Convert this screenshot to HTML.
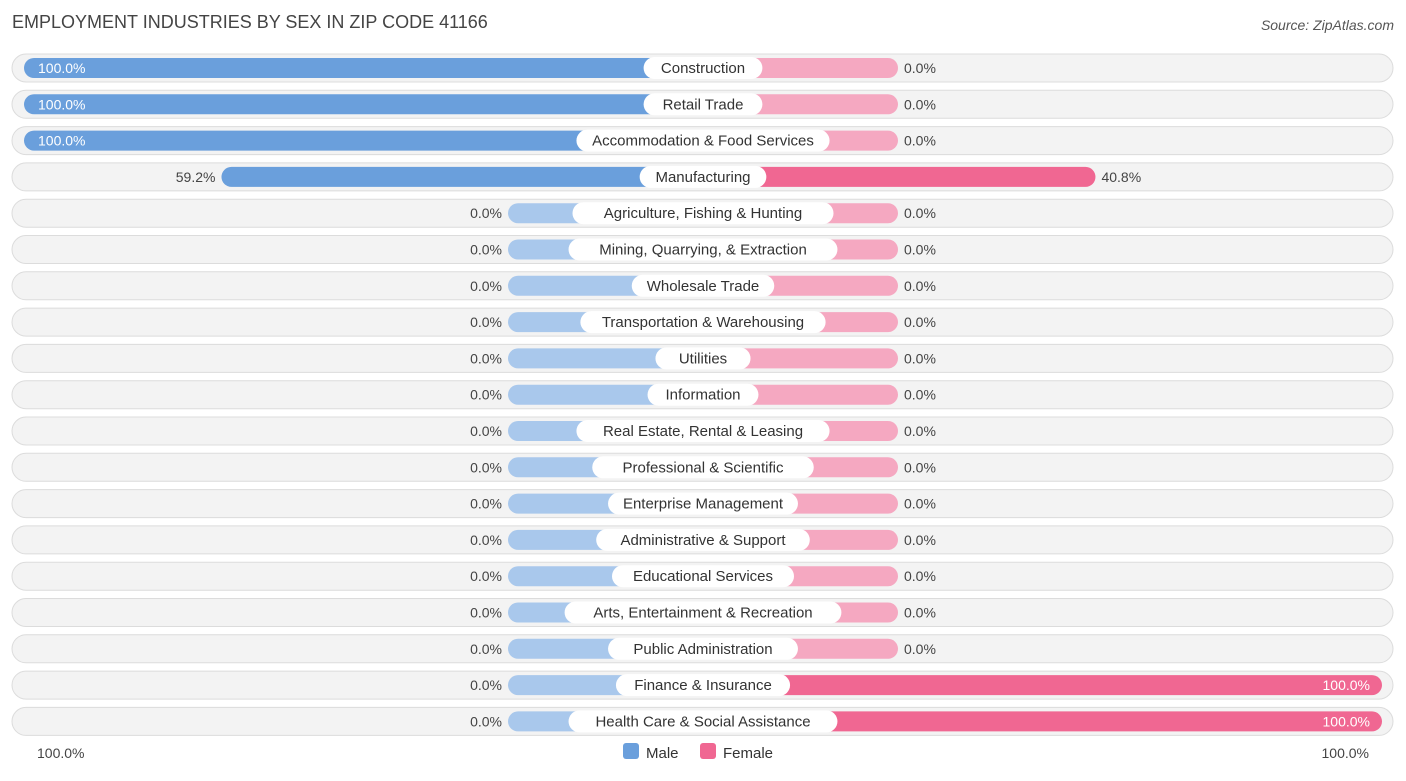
<!DOCTYPE html>
<html><head><meta charset="utf-8"><style>
body{margin:0;background:#fff;font-family:"Liberation Sans",sans-serif;}
svg text{font-family:"Liberation Sans",sans-serif;}
</style></head><body>
<svg id="c" width="1406" height="776" xmlns="http://www.w3.org/2000/svg">
<text x="12" y="28" font-size="18" fill="#444">EMPLOYMENT INDUSTRIES BY SEX IN ZIP CODE 41166</text>
<text x="1394" y="30" font-size="14" fill="#555" font-style="italic" text-anchor="end">Source: ZipAtlas.com</text>
<g id="rows"></g>
<text x="37" y="758" font-size="14" fill="#444">100.0%</text>
<text x="1369" y="758" font-size="14" fill="#444" text-anchor="end">100.0%</text>
<rect x="623" y="743" width="16" height="16" rx="3" fill="#6a9fdc"/>
<text x="646" y="758" font-size="15" fill="#333">Male</text>
<rect x="700" y="743" width="16" height="16" rx="3" fill="#f06792"/>
<text x="723" y="758" font-size="15" fill="#333">Female</text>
</svg>
<script>
const categories=["Construction","Retail Trade","Accommodation & Food Services","Manufacturing","Agriculture, Fishing & Hunting","Mining, Quarrying, & Extraction","Wholesale Trade","Transportation & Warehousing","Utilities","Information","Real Estate, Rental & Leasing","Professional & Scientific","Enterprise Management","Administrative & Support","Educational Services","Arts, Entertainment & Recreation","Public Administration","Finance & Insurance","Health Care & Social Assistance"];
const maleValues=[100,100,100,59.2,0,0,0,0,0,0,0,0,0,0,0,0,0,0,0];
const femaleValues=[0,0,0,40.8,0,0,0,0,0,0,0,0,0,0,0,0,0,100,100];
const NS="http://www.w3.org/2000/svg";
const cx=703,stub=195,full=679;
function len(v){return stub+(full-stub)*v/100;}
function rowY(i){return 68+i*36.3;}
const g=document.getElementById('rows');
function mk(t,a){const e=document.createElementNS(NS,t);for(const k in a)e.setAttribute(k,a[k]);return e;}
categories.forEach((cat,i)=>{
  const y=rowY(i);
  const bg=mk('rect',{x:12,y:y-14,width:1381,height:28,rx:14,fill:'#f3f3f3',stroke:'#dcdcdc'});
  
  
  g.appendChild(bg);
  const m=maleValues[i],f=femaleValues[i];
  const ml=len(m),fl=len(f);
  const mb=mk('rect',{x:cx-ml,y:y-10,width:ml,height:20,rx:10,fill:m>0?'#6a9fdc':'#a9c8ec'});
  
  
  g.appendChild(mb);
  const fb=mk('rect',{x:cx,y:y-10,width:fl,height:20,rx:10,fill:f>0?'#f06792':'#f5a8c1'});
  
  
  g.appendChild(fb);
  // label
  const w=cat.length*7.9+24;
  const lb=mk('rect',{x:cx-w/2,y:y-11,width:w,height:22,rx:11,fill:'#fff'});
  
  
  g.appendChild(lb);
  const lt=mk('text',{x:cx,y:y+5,'font-size':15,fill:'#333','text-anchor':'middle'});
  lt.textContent=cat;
  
  
  g.appendChild(lt);
  // male value
  let mt;
  if(m>=90){mt=mk('text',{x:cx-ml+14,y:y+5,'font-size':14,fill:'#fff'});}
  else{mt=mk('text',{x:cx-ml-6,y:y+5,'font-size':14,fill:'#444','text-anchor':'end'});}
  mt.textContent=m.toFixed(1)+'%';
  
  
  g.appendChild(mt);
  let ft;
  if(f>=90){ft=mk('text',{x:cx+fl-12,y:y+5,'font-size':14,fill:'#fff','text-anchor':'end'});}
  else{ft=mk('text',{x:cx+fl+6,y:y+5,'font-size':14,fill:'#444'});}
  ft.textContent=f.toFixed(1)+'%';
  
  
  g.appendChild(ft);
});
</script>
</body></html>
